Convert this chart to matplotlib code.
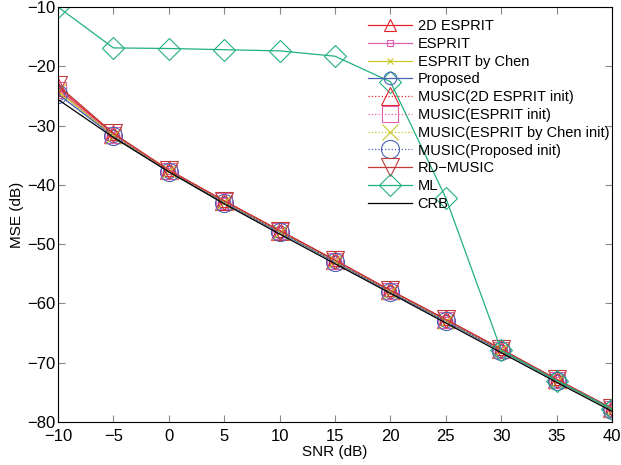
import matplotlib
matplotlib.use('Agg')
import matplotlib.pyplot as plt

plt.rcParams['font.family'] = ['Liberation Sans', 'DejaVu Sans']

snr = [-10, -5, 0, 5, 10, 15, 20, 25, 30, 35, 40]

esprit2d = [-23.6, -31.4, -37.5, -42.7, -47.7, -52.7, -57.8, -62.7, -67.7, -72.8, -77.7]
esprit = [-24.0, -31.6, -37.6, -42.8, -47.8, -52.8, -57.9, -62.8, -67.8, -72.9, -77.8]
esprit_chen = [-24.2, -31.7, -37.7, -42.9, -47.9, -52.9, -58.0, -62.9, -67.9, -73.0, -77.9]
proposed = [-24.7, -31.8, -37.8, -43.0, -48.0, -53.0, -58.1, -63.0, -68.0, -73.0, -77.9]
music_2d = [-23.5, -31.4, -37.5, -42.7, -47.7, -52.7, -57.8, -62.7, -67.7, -72.8, -77.7]
music_esprit = [-24.0, -31.6, -37.6, -42.8, -47.8, -52.8, -57.9, -62.8, -67.8, -72.9, -77.8]
music_chen = [-24.2, -31.7, -37.7, -42.9, -47.9, -52.9, -58.0, -62.9, -67.9, -73.0, -77.9]
music_prop = [-24.7, -31.8, -37.8, -43.0, -48.0, -53.0, -58.1, -63.0, -68.0, -73.0, -77.9]
rd_music = [-23.2, -31.3, -37.5, -42.7, -47.7, -52.7, -57.8, -62.7, -67.7, -72.8, -77.7]
ml = [-10.0, -16.9, -17.0, -17.2, -17.4, -18.3, -22.6, -42.2, -67.9, -73.0, -77.8]
crb = [-25.6, -32.0, -37.8, -43.2, -48.3, -53.3, -58.3, -63.3, -68.3, -73.3, -78.2]

labels = ['2D ESPRIT', 'ESPRIT', 'ESPRIT by Chen', 'Proposed',
          'MUSIC(2D ESPRIT init)', 'MUSIC(ESPRIT init)', 'MUSIC(ESPRIT by Chen init)',
          'MUSIC(Proposed init)', 'RD\u2212MUSIC', 'ML', 'CRB']

RED = '#e8202a'
PINK = '#e060b0'
YEL = '#c8c828'
BLUE = '#4a64b4'
DRED = '#c03a3a'
TEAL = '#20b080'

# (values, colour, linestyle, marker, markersize)
series = [
    (esprit2d, RED, '-', '^', 8),
    (esprit, PINK, '-', 's', 5),
    (esprit_chen, YEL, '-', 'x', 5),
    (proposed, BLUE, '-', 'o', 9),
    (music_2d, RED, ':', '^', 13),
    (music_esprit, PINK, ':', 's', 11),
    (music_chen, YEL, ':', 'x', 11),
    (music_prop, BLUE, ':', 'o', 13),
    (rd_music, DRED, '-', 'v', 13),
    (ml, TEAL, '-', 'D', 11),
    (crb, 'black', '-', None, 0),
]

fig = plt.figure(figsize=(6.21, 4.65), dpi=100)
ax = fig.add_axes([58/621, 43/465, 554/621, 415/465])

handles = []
for (vals, c, ls, m, ms), lab in zip(series, labels):
    kw = dict(color=c, linestyle=ls, linewidth=0.9)
    if m is not None:
        kw.update(marker=m, markersize=ms, markerfacecolor='none', markeredgecolor=c,
                  markeredgewidth=0.8)
    h, = ax.plot(snr, vals, label=lab, **kw)
    handles.append(h)

ax.set_xlim(-10, 40)
ax.set_ylim(-80, -10)
ax.set_xticks(range(-10, 41, 5))
ax.set_yticks(range(-80, -9, 10))
ax.set_xlabel('SNR (dB)', fontsize=11, labelpad=1)
ax.set_ylabel('MSE (dB)', fontsize=11, labelpad=2)
ax.tick_params(direction='in', labelsize=12, top=True, right=True, length=5,
               color='#888888', pad=2)
ax.tick_params(axis='x', pad=5)

ax.legend(handles=handles, loc='upper right', frameon=False, fontsize=10.5,
          handlelength=3.0, handletextpad=0.4, labelspacing=0.26,
          borderpad=0.2, borderaxespad=0.0, bbox_to_anchor=(1.0, 0.978))

fig.savefig('out.png', dpi=100)
